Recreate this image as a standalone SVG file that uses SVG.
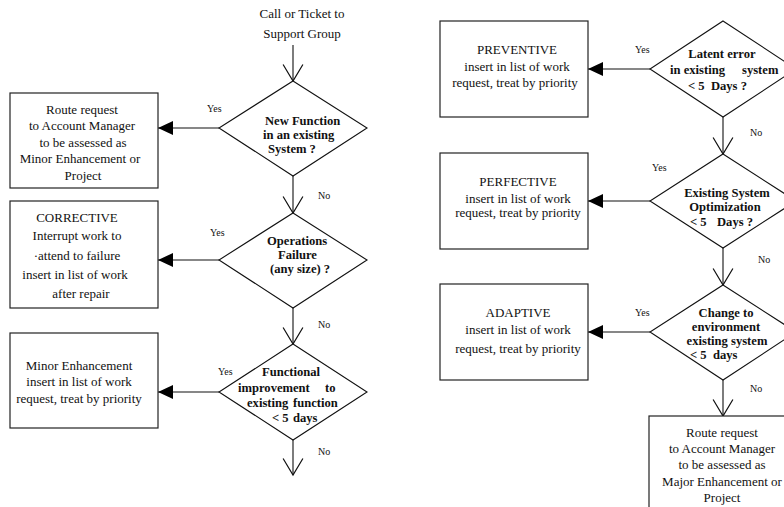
<svg xmlns="http://www.w3.org/2000/svg" width="784" height="507" viewBox="0 0 784 507">
  <defs>
    <style>
      .box { fill: #fff; stroke: #222; stroke-width: 1.2; }
      .dia { fill: #fff; stroke: #111; stroke-width: 1.1; }
      .t { font-family: "Liberation Serif", "Times New Roman", serif; font-size: 13px; fill: #111; white-space: pre; }
      .c { text-anchor: middle; }
      .b { font-weight: bold; font-size: 12.6px; }
      .lbl { font-family: "Liberation Serif", "Times New Roman", serif; font-size: 10px; fill: #111; }
      .ln { stroke: #111; stroke-width: 1.1; fill: none; }
      .open { marker-end: url(#vhead); }
      .fill { marker-end: url(#tri); }
    </style>
    <marker id="vhead" markerUnits="userSpaceOnUse" markerWidth="20" markerHeight="22" viewBox="-16 -10 17 20" refX="0" refY="0" orient="auto" overflow="visible">
      <path d="M-15,-9 L0,0 L-15,9" fill="none" stroke="#111" stroke-width="1.1"/>
    </marker>
    <marker id="tri" markerUnits="userSpaceOnUse" markerWidth="18" markerHeight="16" viewBox="-16 -8 17 16" refX="0" refY="0" orient="auto" overflow="visible">
      <path d="M-15,-7 L0,0 L-15,7 Z" fill="#000"/>
    </marker>
  </defs>

  <!-- connectors -->
  <g id="connectors">
    <line class="ln open" x1="293" y1="45" x2="293" y2="81"/>
    <line class="ln open" x1="293" y1="176" x2="293" y2="213"/>
    <line class="ln open" x1="293" y1="308" x2="293" y2="344"/>
    <line class="ln open" x1="293" y1="440" x2="293" y2="475"/>
    <line class="ln fill" x1="219" y1="128" x2="158" y2="128"/>
    <line class="ln fill" x1="219" y1="260" x2="158" y2="260"/>
    <line class="ln fill" x1="219" y1="392" x2="158" y2="392"/>

    <line class="ln open" x1="723" y1="117" x2="723" y2="154"/>
    <line class="ln open" x1="723" y1="248" x2="723" y2="285"/>
    <line class="ln open" x1="723" y1="380" x2="723" y2="416"/>
    <line class="ln fill" x1="650" y1="69" x2="588" y2="69"/>
    <line class="ln fill" x1="650" y1="201" x2="588" y2="201"/>
    <line class="ln fill" x1="650" y1="332" x2="588" y2="332"/>

    <!-- branch labels -->
    <text class="lbl" x="207" y="112">Yes</text>
    <text class="lbl" x="318" y="199">No</text>
    <text class="lbl" x="210" y="236">Yes</text>
    <text class="lbl" x="318" y="328">No</text>
    <text class="lbl" x="218" y="375">Yes</text>
    <text class="lbl" x="318" y="455">No</text>

    <text class="lbl" x="635" y="53">Yes</text>
    <text class="lbl" x="750" y="136">No</text>
    <text class="lbl" x="652" y="171">Yes</text>
    <text class="lbl" x="758" y="263">No</text>
    <text class="lbl" x="635" y="316">Yes</text>
    <text class="lbl" x="750" y="392">No</text>
  </g>

  <!-- entry point -->
  <g id="start">
    <text class="t c" x="302" y="18">Call or Ticket to</text>
    <text class="t c" x="302" y="38">Support Group</text>
  </g>

  <!-- left column decisions -->
  <g id="q-new-function">
    <polygon class="dia" points="293,81 367,128 293,176 219,128"/>
    <text class="t b" x="265" y="125">New Function</text>
    <text class="t b" x="263" y="139">in an existing</text>
    <text class="t b" x="268" y="153">System ?</text>
  </g>
  <g id="q-operations">
    <polygon class="dia" points="293,213 367,260 293,308 219,260"/>
    <text class="t b" x="267" y="245">Operations</text>
    <text class="t b" x="278" y="259">Failure</text>
    <text class="t b" x="270" y="273">(any size) ?</text>
  </g>
  <g id="q-functional">
    <polygon class="dia" points="293,344 367,392 293,440 219,392"/>
    <text class="t b" x="262" y="376">Functional</text>
    <text class="t b" x="238" y="392">improvement</text>
    <text class="t b" x="325" y="392">to</text>
    <text class="t b" x="247" y="407">existing</text>
    <text class="t b" x="293" y="407">function</text>
    <text class="t b" x="272" y="422">&lt; 5</text>
    <text class="t b" x="293" y="422">days</text>
  </g>

  <!-- left column outcomes -->
  <g id="route-minor">
    <rect class="box" x="10" y="93" width="148" height="95"/>
    <text class="t c" x="82" y="114">Route request</text>
    <text class="t c" x="82" y="130">to Account Manager</text>
    <text class="t c" x="83" y="147">to be assessed as</text>
    <text class="t c" x="80" y="163">Minor Enhancement or</text>
    <text class="t c" x="83" y="180">Project</text>
  </g>
  <g id="corrective">
    <rect class="box" x="10" y="201" width="148" height="107"/>
    <text class="t c" x="77" y="222">CORRECTIVE</text>
    <text class="t c" x="77" y="240">Interrupt work to</text>
    <text class="t c" x="77" y="260">·attend to failure</text>
    <text class="t c" x="75" y="279">insert in list of work</text>
    <text class="t c" x="81" y="298">after repair</text>
  </g>
  <g id="minor-enhancement">
    <rect class="box" x="10" y="333" width="148" height="95"/>
    <text class="t c" x="79" y="370">Minor Enhancement</text>
    <text class="t c" x="79" y="386">insert in list of work</text>
    <text class="t c" x="79" y="403">request, treat by priority</text>
  </g>

  <!-- right column decisions -->
  <g id="q-latent">
    <polygon class="dia" points="723,21 796,69 723,117 650,69"/>
    <text class="t b c" x="722" y="58">Latent error</text>
    <text class="t b" x="670" y="74">in existing</text>
    <text class="t b" x="742" y="74">system</text>
    <text class="t b" x="688" y="90" xml:space="preserve">&lt; 5  Days ?</text>
  </g>
  <g id="q-optimization">
    <polygon class="dia" points="723,154 796,201 723,248 650,201"/>
    <text class="t b c" x="727" y="197">Existing System</text>
    <text class="t b c" x="725" y="211">Optimization</text>
    <text class="t b" x="690" y="226">&lt; 5</text>
    <text class="t b" x="717" y="226">Days ?</text>
  </g>
  <g id="q-environment">
    <polygon class="dia" points="723,285 796,332 723,380 650,332"/>
    <text class="t b c" x="726" y="317">Change to</text>
    <text class="t b c" x="726" y="331">environment</text>
    <text class="t b c" x="727" y="345">existing system</text>
    <text class="t b" x="690" y="359" xml:space="preserve">&lt; 5  days</text>
  </g>

  <!-- right column outcomes -->
  <g id="preventive">
    <rect class="box" x="440" y="21" width="148" height="96"/>
    <text class="t c" x="517" y="54">PREVENTIVE</text>
    <text class="t c" x="517" y="71">insert in list of work</text>
    <text class="t c" x="515" y="87">request, treat by priority</text>
  </g>
  <g id="perfective">
    <rect class="box" x="440" y="153" width="148" height="96"/>
    <text class="t c" x="518" y="186">PERFECTIVE</text>
    <text class="t c" x="518" y="203">insert in list of work</text>
    <text class="t c" x="518" y="217">request, treat by priority</text>
  </g>
  <g id="adaptive">
    <rect class="box" x="440" y="284" width="148" height="96"/>
    <text class="t c" x="518" y="317">ADAPTIVE</text>
    <text class="t c" x="518" y="334">insert in list of work</text>
    <text class="t c" x="518" y="353">request, treat by priority</text>
  </g>
  <g id="route-major">
    <rect class="box" x="649" y="416" width="148" height="100"/>
    <text class="t c" x="722" y="437">Route request</text>
    <text class="t c" x="722" y="453">to Account Manager</text>
    <text class="t c" x="722" y="469">to be assessed as</text>
    <text class="t c" x="722" y="486">Major Enhancement or</text>
    <text class="t c" x="722" y="502">Project</text>
  </g>
</svg>
